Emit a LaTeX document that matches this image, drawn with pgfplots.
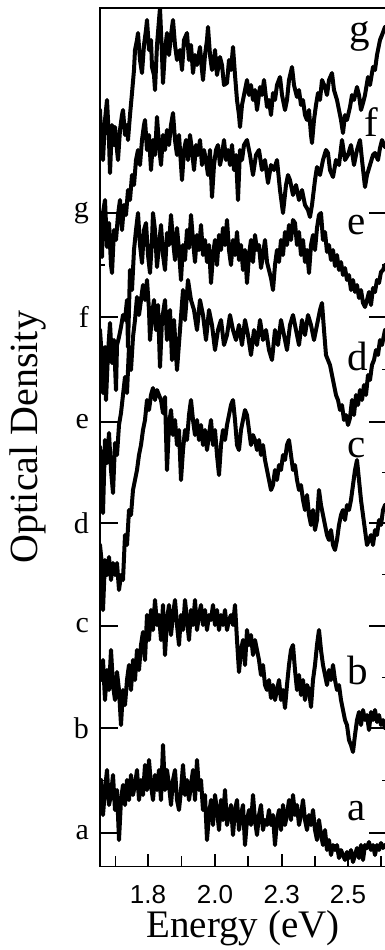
\documentclass[border=0pt]{standalone}
\usepackage{pgfplots}
\pgfplotsset{compat=1.18}
\usepackage{fontspec}
\setmainfont{Liberation Serif}
\newfontfamily\arialfont{Liberation Sans}
\tikzset{spec/.style={black, solid, mark=none, line width=2pt, line join=round, line cap=round}}
\begin{document}
\begin{tikzpicture}
\begin{axis}[
  name=ax, at={(0,0)}, anchor=south west,
  scale only axis, width=143.5pt, height=429.35pt,
  xmin=100, xmax=387, ymin=8, ymax=866.7, y dir=reverse,
  axis line style={line width=0.6pt},
  tick align=inside,
  xtick pos=left, ytick pos=both,
  xtick={148,215,281.7,348},
  xticklabels={1.8,2.0,2.3,2.5},
  minor xtick={115.7,181.7,248,315,381},
  ytick={213.3,316.7,421.7,523.3,626,728.3,832.7},
  yticklabels={g,f,e,d,c,b,a},
  minor ytick={265,369.2,472.5,574.7,677.2,780.5},
  major tick length=9pt, minor tick length=2.5pt,
  xtick style={/pgfplots/major tick length=6.5pt,/pgfplots/minor tick length=5.5pt},
  tick style={line width=1.1pt, black},
  minor tick style={line width=0.6pt},
  xticklabel style={font=\fontsize{13}{13}\arialfont, yshift=-5.7pt},
  yticklabel style={font=\fontsize{15}{15}\selectfont, xshift=-2pt},
]
% a
\addplot[spec] table {
101 780
103 815
105 790
107 770
109 805
111 795
113 775
115 810
117 790
119 840
121 800
123 785
125 805
127 780
129 800
131 775
133 795
135 785
137 770
139 800
141 780
143 795
145 765
147 790
149 760
151 785
153 800
155 775
157 790
159 770
161 800
163 745
165 790
167 770
169 785
171 805
173 780
175 770
177 800
179 810
181 790
183 765
185 795
187 780
189 800
191 785
193 770
195 800
197 760
199 790
201 780
203 810
205 795
207 840
209 815
211 800
213 825
215 795
217 810
219 830
221 800
223 820
225 790
227 825
229 815
231 805
233 835
235 810
237 800
239 830
241 815
243 805
245 845
247 820
249 810
251 825
253 795
255 820
257 835
259 815
261 805
263 830
265 820
267 825
269 810
271 825
273 815
275 845
277 820
279 810
281 830
283 805
285 825
287 815
289 800
291 820
293 795
295 815
297 805
299 825
301 815
303 800
305 820
307 830
309 815
311 825
313 810
315 830
317 840
319 820
321 835
323 845
325 830
327 850
329 840
331 855
333 845
335 850
337 845
339 858
341 850
343 855
345 860
347 852
349 858
351 850
353 862
355 855
357 848
359 858
361 845
363 860
365 845
367 848
369 842
371 850
373 845
375 855
377 845
379 850
381 843
383 848
385 845
};
% b
\addplot[spec] table {
101 680
103 660
105 700
107 670
109 690
111 650
113 685
115 700
117 672
119 690
121 725
123 690
125 705
127 680
129 665
131 690
133 660
135 680
137 650
139 670
141 645
143 632
145 660
147 615
149 640
151 610
153 630
155 600
157 625
159 615
161 640
163 605
165 655
167 620
169 605
171 635
173 615
175 600
177 625
179 645
181 615
183 630
185 600
187 620
189 640
191 610
193 625
195 600
197 630
199 615
201 605
203 625
205 610
207 630
209 615
211 620
213 605
215 625
217 610
219 630
221 615
223 625
225 610
227 630
229 620
231 615
233 625
235 605
237 640
239 672
241 650
243 640
245 665
247 630
249 645
251 635
253 655
255 640
257 650
259 660
261 675
263 665
265 685
267 690
269 680
271 698
273 685
275 700
277 690
279 680
281 700
283 690
285 708
287 685
289 665
291 650
293 645
295 670
297 690
299 675
301 695
303 680
305 700
307 685
309 690
311 707
313 680
315 665
317 645
319 630
321 650
323 665
325 675
327 685
329 670
331 680
333 665
335 680
337 690
339 685
341 700
343 710
345 720
347 725
349 740
351 745
353 752
355 735
357 720
359 712
361 725
363 710
365 720
367 715
369 730
371 712
373 720
375 710
377 722
379 715
381 725
383 720
385 728
};
% c
\addplot[spec] table {
100 545
102 565
103 610
105 560
107 575
109 557
111 580
113 563
115 575
117 563
119 590
121 575
123 580
125 535
127 545
129 510
131 515
133 490
135 480
137 470
139 455
141 445
143 430
145 420
147 400
149 410
151 395
153 388
155 400
157 390
159 395
161 400
163 413
165 397
167 470
169 425
171 410
173 435
175 420
177 445
179 430
181 480
183 450
185 430
187 440
189 415
191 400
193 420
195 435
197 420
199 440
201 425
203 445
205 430
207 450
209 435
211 420
213 445
215 430
217 455
219 475
221 445
223 430
225 440
227 425
229 415
231 405
233 400
235 420
237 445
239 450
241 430
243 420
245 410
247 415
249 430
251 445
253 435
255 440
257 450
259 440
261 455
263 445
265 460
267 470
269 480
271 490
273 485
275 470
277 480
279 465
281 470
283 455
285 460
287 445
289 440
291 455
293 470
295 465
297 480
299 490
301 485
303 500
305 510
307 495
309 515
311 525
313 510
315 530
317 520
319 490
321 505
323 515
325 525
327 535
329 540
331 530
333 545
335 550
337 540
339 525
341 515
343 510
345 520
347 505
349 510
351 500
353 485
355 470
357 460
359 480
361 500
363 515
365 530
367 545
369 540
371 535
373 545
375 530
377 535
379 520
381 525
383 510
385 505
};
% d
\addplot[spec] table {
100 447
102 470
103 513
105 440
107 463
109 433
111 470
113 493
115 443
117 455
119 425
121 413
123 395
125 377
127 393
129 347
131 370
133 337
135 320
137 297
139 315
141 300
143 285
145 300
147 280
149 310
150 340
152 315
154 300
156 330
158 305
160 367
162 320
165 300
167 340
170 310
172 360
174 320
177 370
180 330
183 290
185 320
188 280
191 300
194 310
197 330
200 300
203 315
206 340
209 310
212 325
215 350
218 330
221 320
224 345
227 335
230 315
233 330
236 340
239 325
242 345
245 320
248 335
251 355
254 330
257 345
260 320
263 340
266 330
269 350
272 360
275 330
278 345
281 320
284 335
287 350
290 325
293 315
296 330
299 345
302 320
305 335
308 315
311 325
314 340
317 325
320 310
322 303
324 330
326 355
328 360
330 365
332 375
334 385
336 395
338 400
340 410
342 405
344 420
346 415
348 425
350 418
352 400
354 415
356 395
358 405
360 390
362 400
364 385
366 395
368 375
370 380
372 365
374 360
376 350
378 355
380 340
382 345
385 330
};
% e
\addplot[spec] table {
100 330
102 360
103 393
105 347
106 400
108 353
110 323
112 363
114 340
116 390
117 345
119 337
121 327
123 315
125 320
127 300
128 347
130 270
132 290
134 250
136 230
138 213
140 245
142 263
144 230
146 223
148 255
150 273
152 240
153 213
155 230
157 267
159 245
161 225
163 255
165 270
167 233
169 245
171 215
173 240
175 260
177 228
179 250
181 280
183 245
185 260
187 230
189 248
191 215
193 240
195 262
197 235
199 250
201 225
203 255
205 240
207 262
209 245
211 283
213 255
215 240
217 265
219 235
221 250
223 228
225 245
227 220
229 250
231 265
233 240
235 255
237 232
239 260
241 245
243 270
245 250
247 283
249 255
251 240
253 262
255 235
257 250
259 245
261 268
263 255
265 240
267 262
269 270
271 278
273 290
275 265
277 250
279 262
281 240
283 255
285 232
287 245
289 225
291 240
293 220
295 223
297 245
299 232
301 255
303 240
305 262
307 250
309 273
311 245
313 235
315 250
317 228
319 215
321 213
323 240
325 232
327 252
329 245
331 260
333 250
335 266
337 255
339 270
341 262
343 275
345 268
347 280
349 275
351 290
353 280
355 292
357 285
359 298
361 290
363 303
365 307
367 300
369 292
371 305
373 288
375 292
377 280
379 283
381 272
383 270
385 265
};
% f
\addplot[spec] table {
100 230
102 257
103 213
105 200
107 247
109 223
111 265
112 273
114 230
116 240
118 215
120 200
122 230
124 205
126 215
128 190
130 200
132 175
134 185
136 160
138 150
140 165
142 140
144 125
145 120
147 150
149 135
151 170
153 140
155 155
157 117
159 145
161 165
163 135
165 150
167 130
169 145
171 125
173 113
175 140
177 155
179 135
182 180
184 150
186 140
188 160
190 135
192 150
194 170
196 145
198 155
200 140
202 165
204 150
206 160
208 175
210 150
212 197
214 165
216 150
218 145
220 165
222 155
224 140
226 160
228 150
230 165
232 145
234 170
236 155
238 200
240 150
242 160
244 145
247 140
250 155
253 175
256 155
259 150
262 170
265 160
268 183
271 165
274 170
277 160
280 190
283 213
286 185
288 175
290 180
293 195
296 185
299 200
302 190
305 205
308 210
310 217
312 205
315 180
317 167
320 175
323 160
326 150
328 153
330 170
333 177
336 160
339 165
342 140
345 160
348 155
351 145
354 165
357 150
360 140
362 160
365 187
367 175
370 165
373 155
375 153
378 160
380 148
382 140
385 147
};
% g
\addplot[spec] table {
100 110
101 135
103 160
105 120
107 100
109 140
110 173
112 125
114 145
115 127
117 150
118 160
120 130
122 115
123 110
125 135
127 125
128 140
130 115
132 93
134 70
135 50
137 40
138 33
140 60
142 73
144 45
146 30
147 20
149 50
151 40
152 67
154 75
155 90
157 45
159 20
160 8
162 55
163 83
165 50
167 33
169 55
171 35
173 20
175 45
177 60
180 50
182 70
184 40
187 33
189 60
191 45
193 73
195 55
197 65
200 47
202 70
203 80
205 55
207 40
208 27
210 55
212 70
213 67
215 50
217 75
220 57
222 65
224 85
227 83
229 60
231 70
233 47
235 75
237 100
239 115
240 127
242 105
244 95
247 80
249 95
251 85
253 100
255 90
257 110
260 87
262 95
264 80
267 107
269 100
271 115
273 93
275 100
277 85
280 77
282 95
285 110
287 100
289 80
292 67
294 85
297 97
299 90
301 105
303 100
305 115
307 120
309 110
311 135
312 143
314 120
316 105
318 93
320 100
322 80
325 87
327 95
329 80
332 73
334 90
337 100
339 110
341 120
343 133
345 115
347 120
350 107
352 95
354 100
357 87
359 95
361 110
363 103
365 95
368 77
370 85
373 67
375 70
377 55
380 40
382 35
385 27
};
\end{axis}
\begin{scope}[shift={(-50pt,433.35pt)}, x=0.5pt, y=-0.5pt]
  \node[rotate=90, inner sep=0pt, font=\fontsize{20}{20}\selectfont] at (27.5,437) {Optical Density};
  \node[anchor=base, inner sep=0pt, font=\fontsize{19.5}{19.5}\selectfont] at (243,937) {Energy (eV)};
  \begin{scope}[every node/.style={anchor=base, inner sep=0pt, font=\fontsize{20.5}{20.5}\selectfont}]
    \node at (360,43) {g};
    \node at (371,137) {f};
    \node at (357,235) {e};
    \node at (358,370) {d};
    \node at (357,457) {c};
    \node at (358,684) {b};
    \node at (357,820) {a};
  \end{scope}
\end{scope}
\pgfresetboundingbox
\path[use as bounding box] (-50pt,433.35pt) rectangle (142.5pt,-41.65pt);
\end{tikzpicture}
\end{document}
